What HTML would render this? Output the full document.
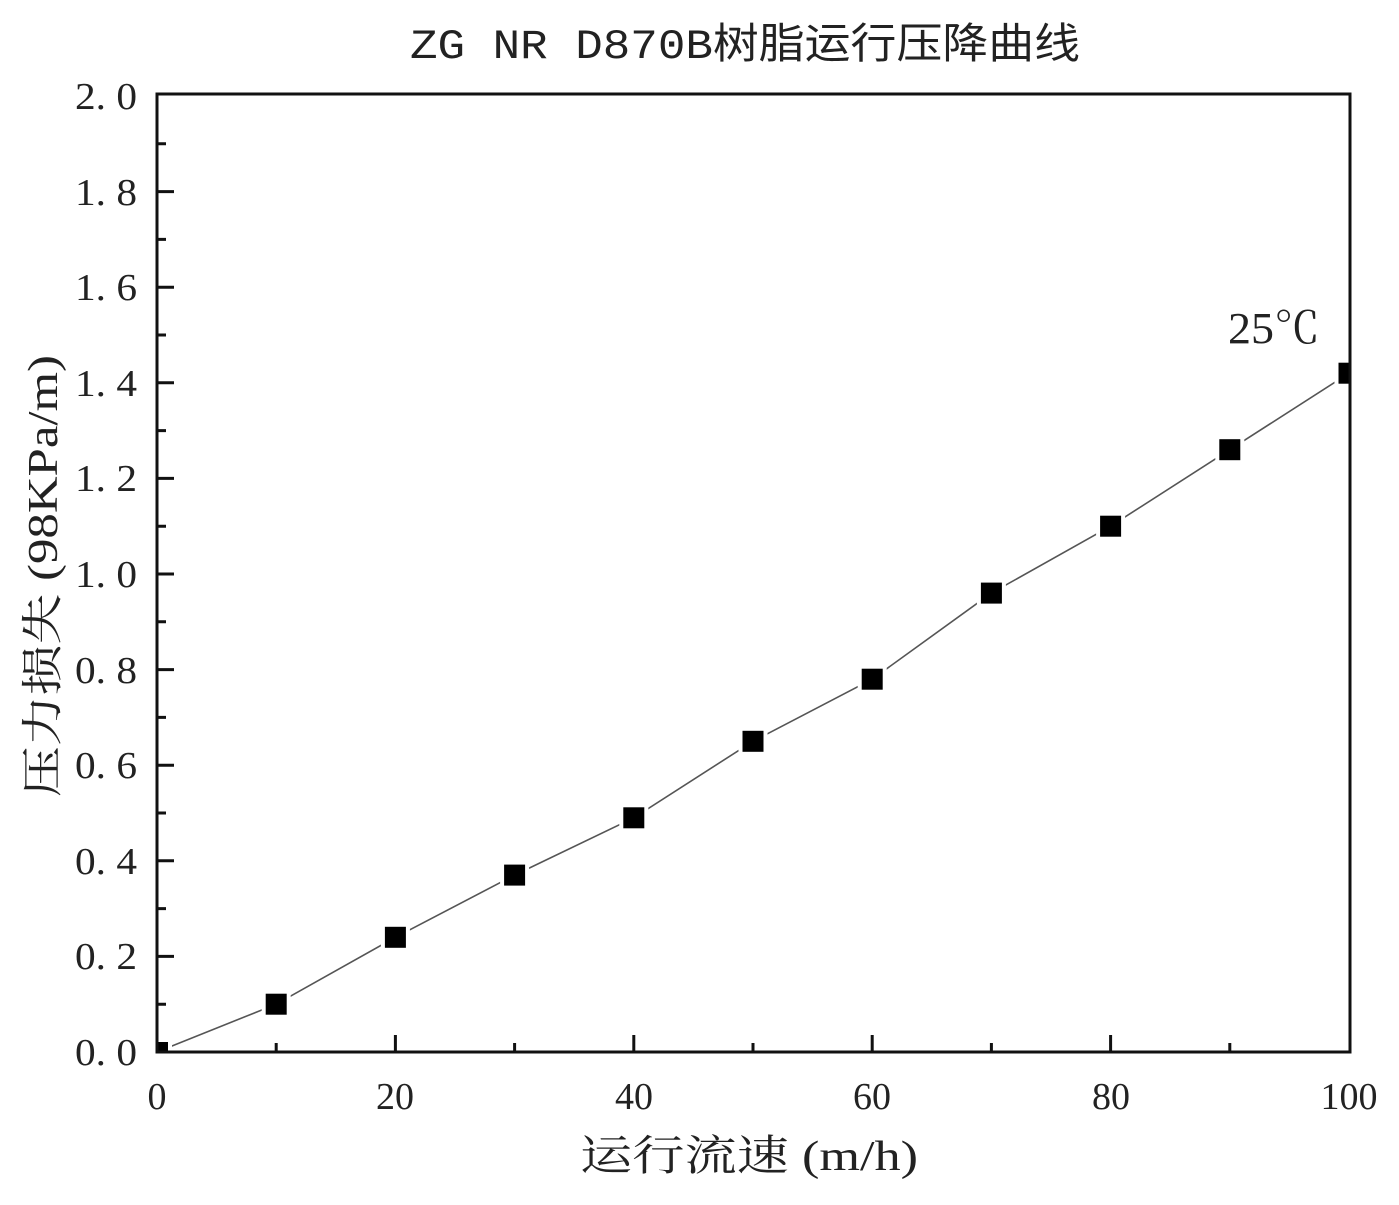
<!DOCTYPE html>
<html><head><meta charset="utf-8"><style>html,body{margin:0;padding:0;background:#fff}</style></head>
<body>
<svg width="1399" height="1200" xmlns="http://www.w3.org/2000/svg" font-family="'Liberation Serif','Noto Serif CJK SC',serif" fill="#222">
<defs><clipPath id="c"><rect x="157" y="94" width="1193" height="958"/></clipPath></defs>
<text x="410" y="58" font-family="'Liberation Mono','Noto Sans CJK SC',monospace" font-size="42" textLength="670" lengthAdjust="spacingAndGlyphs">ZG NR D870B树脂运行压降曲线</text>
<g clip-path="url(#c)">
<polyline fill="none" stroke="#555" stroke-width="1.6" points="157,1052 276.2,1004.2 395.4,937.3 514.6,875.1 633.8,817.8 753,741.3 872.2,679.2 991.4,593.1 1110.6,526.2 1229.8,449.7 1349,373.2"/>
<g fill="#000" stroke="#fff" stroke-width="8" paint-order="stroke">
<rect x="147" y="1042" width="21" height="21"/>
<rect x="265.7" y="993.7" width="21" height="21"/>
<rect x="384.9" y="926.8" width="21" height="21"/>
<rect x="504.1" y="864.6" width="21" height="21"/>
<rect x="623.3" y="807.3" width="21" height="21"/>
<rect x="742.5" y="730.8" width="21" height="21"/>
<rect x="861.7" y="668.7" width="21" height="21"/>
<rect x="980.9" y="582.6" width="21" height="21"/>
<rect x="1100.1" y="515.7" width="21" height="21"/>
<rect x="1219.3" y="439.2" width="21" height="21"/>
<rect x="1338.5" y="362.7" width="21" height="21"/>
</g>
</g>
<rect x="157" y="94" width="1193" height="958" fill="none" stroke="#111" stroke-width="3"/>
<g stroke="#111" stroke-width="3">
<path d="M157 1052h17M157 956.4h17M157 860.8h17M157 765.2h17M157 669.6h17M157 574h17M157 478.4h17M157 382.8h17M157 287.2h17M157 191.6h17"/>
<path d="M157 1004.2h9M157 908.6h9M157 813h9M157 717.4h9M157 621.8h9M157 526.2h9M157 430.6h9M157 335h9M157 239.4h9M157 143.8h9"/>
<path d="M395.4 1052v-17M633.8 1052v-17M872.2 1052v-17M1110.6 1052v-17"/>
<path d="M276.2 1052v-9M514.6 1052v-9M753 1052v-9M991.4 1052v-9M1229.8 1052v-9"/>
</g>
<g font-size="38">
<text x="75" y="1065" textLength="62" lengthAdjust="spacingAndGlyphs">0. 0</text><text x="75" y="969" textLength="62" lengthAdjust="spacingAndGlyphs">0. 2</text><text x="75" y="874" textLength="62" lengthAdjust="spacingAndGlyphs">0. 4</text><text x="75" y="778" textLength="62" lengthAdjust="spacingAndGlyphs">0. 6</text><text x="75" y="683" textLength="62" lengthAdjust="spacingAndGlyphs">0. 8</text><text x="75" y="587" textLength="62" lengthAdjust="spacingAndGlyphs">1. 0</text><text x="75" y="491" textLength="62" lengthAdjust="spacingAndGlyphs">1. 2</text><text x="75" y="396" textLength="62" lengthAdjust="spacingAndGlyphs">1. 4</text><text x="75" y="300" textLength="62" lengthAdjust="spacingAndGlyphs">1. 6</text><text x="75" y="205" textLength="62" lengthAdjust="spacingAndGlyphs">1. 8</text><text x="75" y="109" textLength="62" lengthAdjust="spacingAndGlyphs">2. 0</text>
</g>
<g font-size="38" text-anchor="middle">
<text x="157" y="1109">0</text><text x="395" y="1109">20</text><text x="634" y="1109">40</text><text x="872" y="1109">60</text><text x="1111" y="1109">80</text><text x="1349" y="1109">100</text>
</g>
<text x="580" y="1170" font-size="42" textLength="338" lengthAdjust="spacingAndGlyphs">运行流速 (m/h)</text>
<text transform="translate(57,797) rotate(-90)" font-size="42" textLength="442" lengthAdjust="spacingAndGlyphs">压力损失 (98KPa/m)</text>
<text x="1228" y="343" font-size="44" textLength="92" lengthAdjust="spacingAndGlyphs">25℃</text>
</svg>
</body></html>
